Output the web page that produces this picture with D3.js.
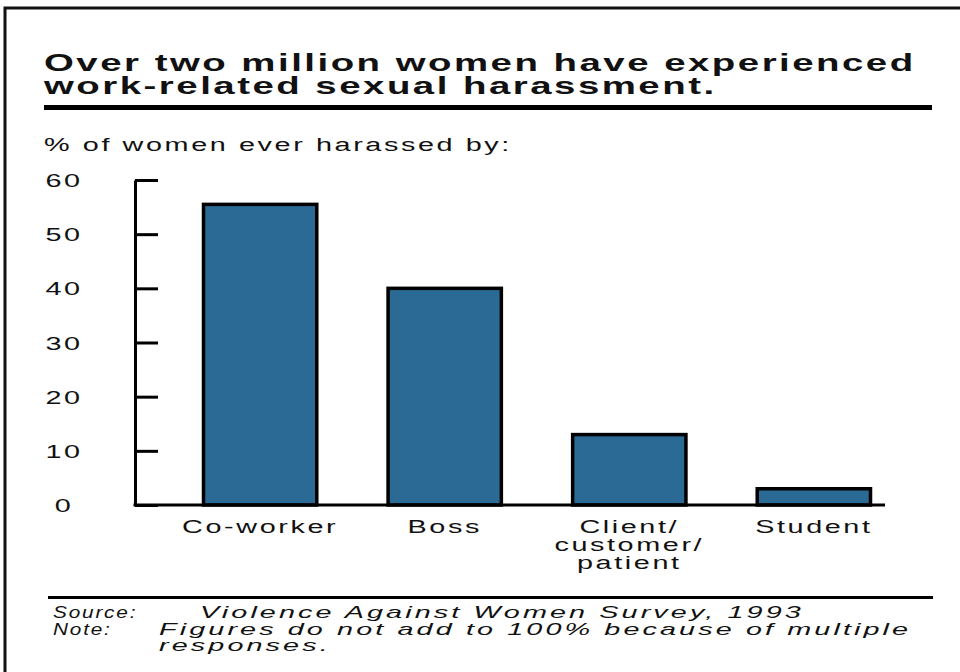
<!DOCTYPE html>
<html>
<head>
<meta charset="utf-8">
<script src="https://cdn.jsdelivr.net/npm/d3@7"></script>
<style>
  body { margin: 0; background: #fff; }
  svg { display: block; }
</style>
</head>
<body>
<script>
// data
const labelLines = [["Co-worker"], ["Boss"], ["Client/", "customer/", "patient"], ["Student"]];
const categories = labelLines.map(d => d.join(""));
const values = [55.5, 40, 13, 3];
const yTicks = [0, 10, 20, 30, 40, 50, 60];
const titleLines = ["Over two million women have experienced", "work-related sexual harassment."];
const subtitle = "% of women ever harassed by:";
const sourceLabel = "Source:";
const sourceText = "Violence Against Women Survey, 1993";
const noteLabel = "Note:";
const noteLines = ["Figures do not add to 100% because of multiple", "responses."];

const FONT = "'Liberation Sans', Arial, Helvetica, sans-serif";
// the original type is very wide, so glyphs are stretched and a bit spaced out
const titleStyle = {size: 24, weight: "bold", sx: 1.6, ls: 2.5};
const bodyStyle = {size: 18, sx: 1.6, ls: 2.6};
const noteStyle = {size: 16, italic: true, sx: 1.8, ls: 3.1};
const noteLabelStyle = {size: 16, italic: true, sx: 1.3, ls: 1.8};

const width = 960, height = 672;
const plot = {left: 135, right: 885, top: 180, bottom: 505};

const svg = d3.select("body").append("svg")
  .attr("width", width)
  .attr("height", height);

function styleText(sel, st) {
  sel.style("font-family", FONT)
    .style("font-size", st.size + "px")
    .style("font-weight", st.weight || "normal")
    .style("font-style", st.italic ? "italic" : "normal")
    .attr("letter-spacing", (st.ls / st.sx) + "px")
    .attr("fill", "#111");
  return sel;
}

function wideText(parent, x, y, txt, st, anchor) {
  return styleText(parent.append("text"), st)
    .attr("transform", "translate(" + x + "," + y + ") scale(" + st.sx + ",1)")
    .attr("text-anchor", anchor || "start")
    .text(txt);
}

// frame (runs off the right and bottom edge)
svg.append("rect")
  .attr("x", 5).attr("y", 8)
  .attr("width", 1000).attr("height", 700)
  .attr("fill", "none")
  .attr("stroke", "#111")
  .attr("stroke-width", 3);

// title
titleLines.forEach(function(t, i) {
  wideText(svg, 44, 71 + i * 23, t, titleStyle);
});
svg.append("line")
  .attr("x1", 44).attr("x2", 932)
  .attr("y1", 107.5).attr("y2", 107.5)
  .attr("stroke", "#000").attr("stroke-width", 5);

wideText(svg, 44, 151, subtitle, bodyStyle);

// scales
const y = d3.scaleLinear()
  .domain([0, 60])
  .range([plot.bottom, plot.top]);

const x = d3.scaleBand()
  .domain(categories)
  .range([202, 872])
  .paddingInner(0.37)
  .paddingOuter(0);

// bars
svg.append("g").attr("class", "bars")
  .selectAll("rect")
  .data(values)
  .join("rect")
    .attr("x", (d, i) => x(categories[i]) + 1.5)
    .attr("width", x.bandwidth() - 3)
    .attr("y", d => y(d))
    .attr("height", d => y(0) - y(d))
    .attr("fill", "#2b6a95")
    .attr("stroke", "#000")
    .attr("stroke-width", 3.5);

// y axis, ticks point into the plot
const yAxis = d3.axisLeft(y)
  .tickValues(yTicks)
  .tickSize(-23)
  .tickSizeOuter(0);

const gy = svg.append("g")
  .attr("class", "axis axis-y")
  .attr("transform", "translate(" + plot.left + ",0)")
  .call(yAxis);

gy.selectAll("path, line")
  .attr("stroke", "#000")
  .attr("stroke-width", 3);

gy.selectAll(".tick text").each(function() {
  const t = d3.select(this);
  styleText(t, bodyStyle)
    .attr("x", 0).attr("y", 0).attr("dy", null)
    .attr("text-anchor", "middle")
    .attr("transform", "translate(-71,6.5) scale(" + bodyStyle.sx + ",1)");
});

// x baseline
svg.append("line")
  .attr("x1", plot.left - 1.5).attr("x2", plot.right)
  .attr("y1", plot.bottom).attr("y2", plot.bottom)
  .attr("stroke", "#000").attr("stroke-width", 3);

// category labels
const xAxis = d3.axisBottom(x).tickSize(0).tickPadding(0);
const gx = svg.append("g")
  .attr("class", "axis axis-x")
  .attr("transform", "translate(0," + plot.bottom + ")")
  .call(xAxis);
gx.select(".domain").remove();

gx.selectAll(".tick text").each(function(d, i) {
  const t = d3.select(this);
  styleText(t, bodyStyle)
    .attr("x", 0).attr("y", 0).attr("dy", null)
    .attr("text-anchor", "middle")
    .attr("transform", "translate(0,28) scale(" + bodyStyle.sx + ",1)")
    .text(null);
  labelLines[i].forEach(function(line, j) {
    t.append("tspan")
      .attr("x", 0)
      .attr("dy", j === 0 ? 0 : 18)
      .text(line);
  });
});

// footnote
svg.append("line")
  .attr("x1", 48).attr("x2", 933)
  .attr("y1", 597.5).attr("y2", 597.5)
  .attr("stroke", "#000").attr("stroke-width", 3);

wideText(svg, 53, 618, sourceLabel, noteLabelStyle);
wideText(svg, 200, 618, sourceText, noteStyle);
wideText(svg, 53, 635, noteLabel, noteLabelStyle);
noteLines.forEach(function(t, i) {
  wideText(svg, 159, 635 + i * 16, t, noteStyle);
});
</script>
</body>
</html>
